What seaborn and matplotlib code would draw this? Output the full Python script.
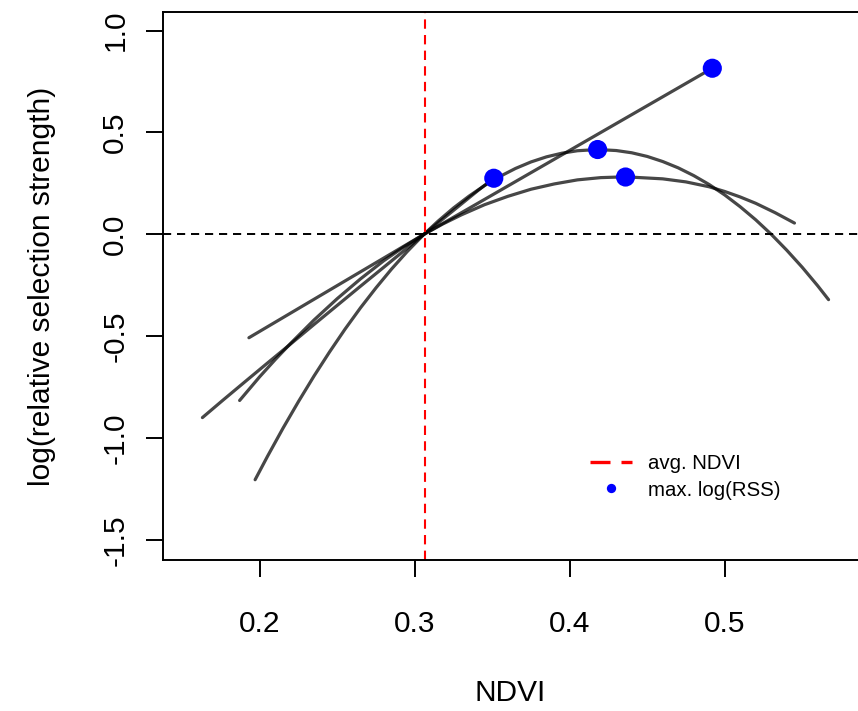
# Recreate log(RSS) vs NDVI chart
import pandas as pd
import seaborn as sns
import matplotlib.pyplot as plt
from matplotlib.lines import Line2D

# ----------- Data -----------

avg_ndvi = 0.3065

# curve peaking at 0.418
c1_x = [0.197, 0.205, 0.215, 0.225, 0.235, 0.245, 0.255, 0.265, 0.275, 0.285,
        0.295, 0.306, 0.315, 0.325, 0.335, 0.345, 0.355, 0.365, 0.375, 0.385,
        0.395, 0.405, 0.418, 0.430, 0.440, 0.450, 0.460, 0.470, 0.480, 0.490,
        0.500, 0.510, 0.520, 0.530, 0.540, 0.550, 0.560, 0.567]
c1_y = [-1.205, -1.090, -0.952, -0.821, -0.696, -0.578, -0.466, -0.361, -0.263, -0.171,
        -0.086, 0.0, 0.064, 0.129, 0.187, 0.239, 0.284, 0.323, 0.355, 0.380,
        0.398, 0.410, 0.416, 0.411, 0.400, 0.382, 0.357, 0.326, 0.288, 0.244,
        0.193, 0.135, 0.071, 0.0, -0.078, -0.162, -0.253, -0.321]

# curve peaking at 0.436
c2_x = [0.187, 0.20, 0.21, 0.22, 0.235, 0.25, 0.265, 0.28, 0.293, 0.306,
        0.318, 0.33, 0.345, 0.36, 0.375, 0.39, 0.405, 0.42, 0.436, 0.46,
        0.475, 0.49, 0.50, 0.51, 0.52, 0.5325, 0.545]
c2_y = [-0.816, -0.699, -0.615, -0.535, -0.421, -0.316, -0.219, -0.130, -0.062, 0.0,
        0.050, 0.095, 0.145, 0.186, 0.221, 0.247, 0.267, 0.278, 0.282, 0.272,
        0.257, 0.233, 0.210, 0.183, 0.152, 0.106, 0.055]

# curve ending at its max (0.351)
c3_x = [0.163, 0.176, 0.19, 0.205, 0.22, 0.235, 0.25, 0.265, 0.28, 0.293,
        0.306, 0.318, 0.33, 0.341, 0.351]
c3_y = [-0.90, -0.816, -0.727, -0.632, -0.538, -0.443, -0.349, -0.255, -0.162, -0.081,
        0.0, 0.074, 0.148, 0.216, 0.275]

# straight line
c4_x = [0.193, 0.306, 0.492]
c4_y = [-0.508, 0.0, 0.815]

# max log(RSS) points
max_x = [0.351, 0.418, 0.436, 0.492]
max_y = [0.275, 0.416, 0.281, 0.815]

x_ticks = [0.2, 0.3, 0.4, 0.5]
x_labels = ["0.2", "0.3", "0.4", "0.5"]
y_ticks = [-1.5, -1.0, -0.5, 0.0, 0.5, 1.0]
y_labels = ["-1.5", "-1.0", "-0.5", "0.0", "0.5", "1.0"]

# ----------- Plot -----------

sns.set_style("ticks")
plt.rcParams['font.family'] = ['Liberation Sans', 'DejaVu Sans']
plt.rcParams['text.color'] = 'black'
plt.rcParams['axes.labelcolor'] = 'black'
plt.rcParams['xtick.color'] = 'black'
plt.rcParams['ytick.color'] = 'black'

fig = plt.figure(figsize=(8.58, 7.11), dpi=100)
ax = fig.add_axes([0.1895, 0.2124, 0.8105, 0.7707])

curves = [(c1_x, c1_y), (c2_x, c2_y), (c3_x, c3_y), (c4_x, c4_y)]
for cx, cy in curves:
    sns.lineplot(x=cx, y=cy, ax=ax, color='black', alpha=0.72, lw=2.3,
                 sort=False, estimator=None, solid_capstyle='round',
                 solid_joinstyle='round')

ax.axhline(0, color='black', lw=1.4, dashes=(4.2, 3))
ax.axvline(avg_ndvi, color='red', lw=1.5, dashes=(4.5, 3))

sns.scatterplot(x=max_x, y=max_y, ax=ax, color='blue', s=190,
                edgecolor='none', zorder=4)

ax.set_xlim(0.1373, 0.586)
ax.set_ylim(-1.599, 1.091)

ax.set_xticks(x_ticks)
ax.set_xticklabels(x_labels)
ax.set_yticks(y_ticks)
ax.set_yticklabels(y_labels, rotation=90, va='center')
ax.tick_params(axis='both', length=12, width=1.4, labelsize=21.5,
               color='black', labelcolor='black')
ax.tick_params(axis='x', pad=24)
ax.tick_params(axis='y', pad=12)

for side in ['left', 'bottom', 'top']:
    ax.spines[side].set_linewidth(1.4)
    ax.spines[side].set_color('black')
ax.spines['right'].set_visible(False)

ax.set_xlabel("NDVI", fontsize=21.5, color='black')
ax.set_ylabel("log(relative selection strength)", fontsize=21.5, color='black')
ax.xaxis.set_label_coords(0.5, -0.217)
ax.yaxis.set_label_coords(-0.153, 0.5)

handles = [Line2D([], [], color='red', lw=2.4, dashes=(6, 3.3)),
           Line2D([], [], color='blue', marker='o', ls='none', markersize=6.7,
                  markeredgewidth=0)]
ax.legend(handles, ['avg. NDVI', 'max. log(RSS)'], loc='center left',
          bbox_to_anchor=(590 / 858, 1 - 477 / 711), bbox_transform=fig.transFigure,
          frameon=False, fontsize=14.7, handlelength=2.05, handletextpad=0.78,
          labelspacing=0.35, borderpad=0, borderaxespad=0, labelcolor='black')

plt.savefig('out.png', dpi=100)
